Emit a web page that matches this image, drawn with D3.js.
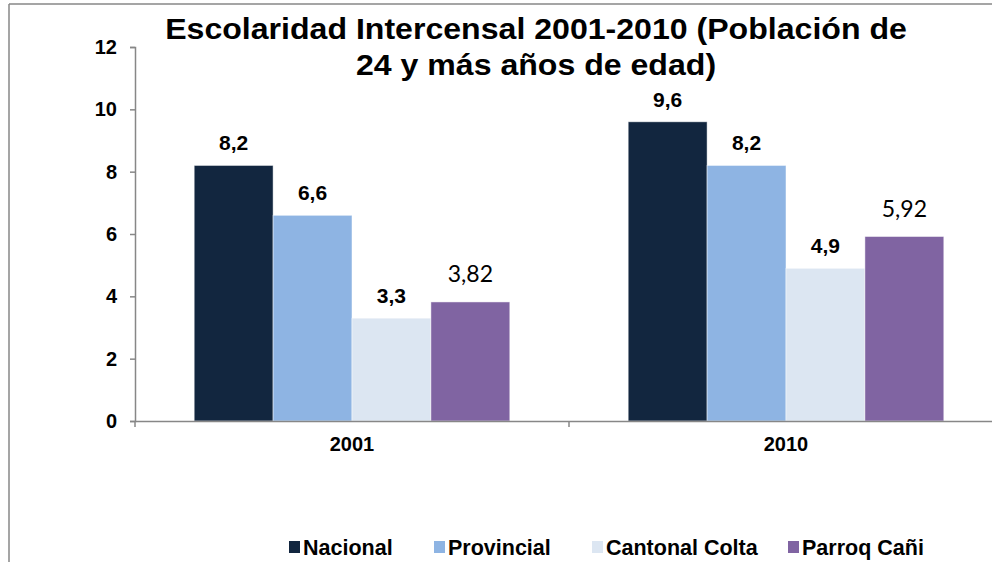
<!DOCTYPE html>
<html>
<head>
<meta charset="utf-8">
<script src="https://cdn.jsdelivr.net/npm/d3@7"></script>
<style>
  html, body { margin: 0; padding: 0; background: #fff; }
  svg { display: block; }
</style>
</head>
<body>
<svg id="chart" width="992" height="562"></svg>
<script>
const titleLines = ["Escolaridad Intercensal 2001-2010 (Población de", "24 y más años de edad)"];
const categories = ["2001", "2010"];
const seriesNames = ["Nacional", "Provincial", "Cantonal Colta", "Parroq Cañi"];
const seriesColors = ["#12263F", "#8EB4E3", "#DCE6F2", "#8064A2"];
const nacional = [8.2, 9.6];
const provincial = [6.6, 8.2];
const cantonal = [3.3, 4.9];
const parroq = [3.82, 5.92];
const labelTexts = [["8,2", "9,6"], ["6,6", "8,2"], ["3,3", "4,9"], ["3,82", "5,92"]];
const labelBold = [true, true, true, false];
const yTicks = [0, 2, 4, 6, 8, 10, 12];

const seriesValues = [nacional, provincial, cantonal, parroq];

const svg = d3.select("#chart");
const gray = "#878787";

// Outer chart border (top & left visible)
svg.append("line").attr("x1", 9).attr("x2", 992).attr("y1", 4).attr("y2", 4)
  .attr("stroke", gray).attr("stroke-width", 1.5);
svg.append("line").attr("x1", 9).attr("x2", 9).attr("y1", 4).attr("y2", 562)
  .attr("stroke", gray).attr("stroke-width", 1.5);

const x0 = d3.scaleBand().domain(categories).range([135, 1003]).paddingInner(0).paddingOuter(0);
const x1 = d3.scaleBand().domain(seriesNames).range([0, x0.bandwidth()]).paddingInner(0).paddingOuter(0.75);
const y = d3.scaleLinear().domain([0, 12]).range([421, 47]);

// Bars
seriesNames.forEach((s, si) => {
  const g = svg.append("g");
  g.selectAll("rect").data(categories).enter().append("rect")
    .attr("x", c => x0(c) + x1(s))
    .attr("y", (c, ci) => y(seriesValues[si][ci]))
    .attr("width", x1.bandwidth())
    .attr("height", (c, ci) => y(0) - y(seriesValues[si][ci]))
    .attr("fill", seriesColors[si])
    .attr("stroke", "rgba(255,255,255,0.6)")
    .attr("stroke-width", 0.8);
  g.selectAll("text").data(categories).enter().append("text")
    .attr("x", c => x0(c) + x1(s) + x1.bandwidth() / 2)
    .attr("y", (c, ci) => y(seriesValues[si][ci]) - (labelBold[si] ? 15 : 19.5))
    .attr("text-anchor", "middle")
    .attr("font-family", labelBold[si] ? "Liberation Sans, Arial, sans-serif" : "Lato, 'Open Sans', sans-serif")
    .attr("font-weight", labelBold[si] ? "bold" : "normal")
    .attr("font-size", labelBold[si] ? 21 : 23)
    .attr("fill", "#000")
    .text((c, ci) => labelTexts[si][ci]);
});

// Y axis
const yAxis = d3.axisLeft(y).tickValues(yTicks).tickSize(5).tickPadding(13).tickFormat(d3.format("d"));
const gy = svg.append("g").attr("transform", "translate(135,0)").call(yAxis);
gy.select(".domain").attr("stroke", gray).attr("stroke-width", 1.5);
gy.selectAll(".tick line").attr("stroke", gray).attr("stroke-width", 1.5);
gy.selectAll(".tick text").attr("font-family", "Liberation Sans, Arial, sans-serif")
  .attr("font-weight", "bold").attr("font-size", 20).attr("fill", "#000");

// X axis
const xAxis = d3.axisBottom(x0).tickSize(0).tickPadding(13);
const gx = svg.append("g").attr("transform", "translate(0,421)").call(xAxis);
gx.select(".domain").attr("stroke", gray).attr("stroke-width", 1.5);
gx.selectAll(".tick text").attr("font-family", "Liberation Sans, Arial, sans-serif")
  .attr("font-weight", "bold").attr("font-size", 20).attr("fill", "#000").attr("dy", "0.85em");
// category boundary ticks
const bounds = categories.map(c => x0(c)).concat([x0(categories[categories.length - 1]) + x0.bandwidth()]);
gx.selectAll(".bound").data(bounds).enter().append("line")
  .attr("x1", d => d).attr("x2", d => d).attr("y1", 0).attr("y2", 6)
  .attr("stroke", gray).attr("stroke-width", 1.5);

// Title
svg.append("g").attr("transform", "translate(536,0) scale(1.07,1)")
  .append("text")
  .attr("x", 0).attr("y", 39)
  .attr("text-anchor", "middle")
  .attr("font-family", "Liberation Sans, Arial, sans-serif")
  .attr("font-weight", "bold").attr("font-size", 30).attr("fill", "#000")
  .selectAll("tspan").data(titleLines).enter().append("tspan")
  .attr("x", 0).attr("dy", (d, i) => i === 0 ? 0 : 36)
  .text(d => d);

// Legend
const legendX = [289, 434, 592, 788];
const legend = svg.append("g");
seriesNames.forEach((s, i) => {
  const g = legend.append("g").attr("transform", `translate(${legendX[i]},541)`);
  g.append("rect").attr("x", 0).attr("y", 0).attr("width", 11).attr("height", 12).attr("fill", seriesColors[i]);
  g.append("text").attr("x", 14).attr("y", 14)
    .attr("font-family", "Liberation Sans, Arial, sans-serif")
    .attr("font-weight", "bold").attr("font-size", 21.5).attr("fill", "#000")
    .text(s);
});
</script>
</body>
</html>
